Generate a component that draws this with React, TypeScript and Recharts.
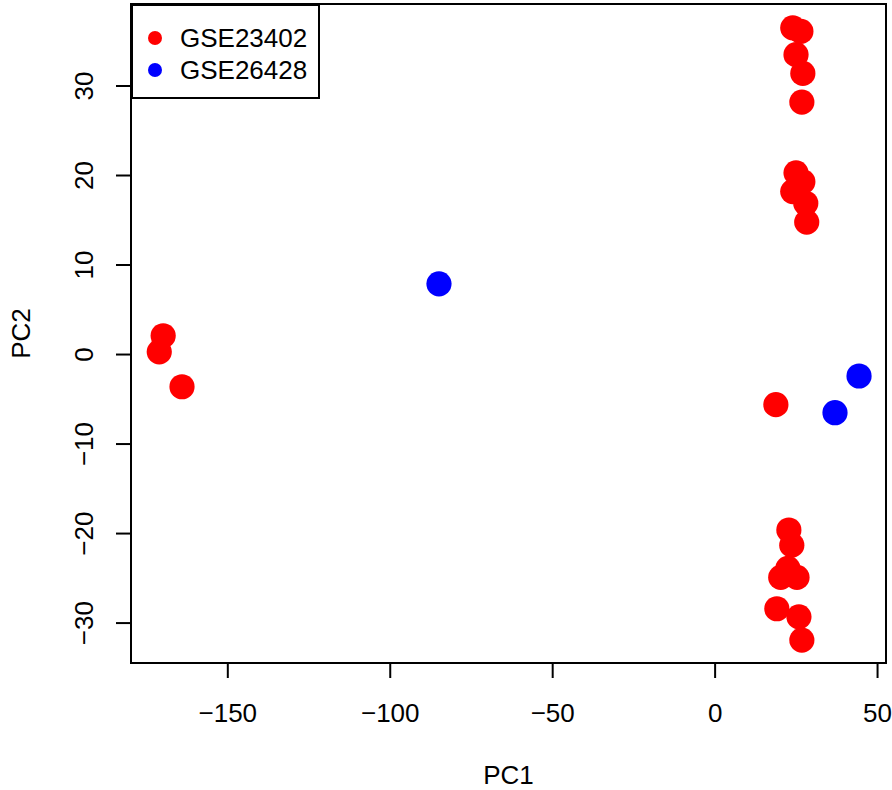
import React from "react";
import { ScatterChart, Scatter, XAxis, YAxis, ReferenceArea } from "recharts";

const seriesNames = ["GSE23402", "GSE26428"];
const seriesColors = ["#ff0000", "#0000ff"];

const gse23402X = [23.9, 26.4, 24.9, 27.0, 26.7, 24.9, 27.0, 23.9, 27.9, 28.2, 22.7, 23.6, 20.2, 22.4, 25.2, 19.0, 25.8, 26.7, -169.9, -171.1, -164.1, 18.7];
const gse23402Y = [36.5, 36.1, 33.5, 31.4, 28.2, 20.3, 19.3, 18.2, 16.9, 14.8, -19.6, -21.3, -24.9, -23.9, -24.9, -28.4, -29.3, -31.9, 2.1, 0.3, -3.6, -5.6];
const gse26428X = [-85.0, 36.9, 44.3];
const gse26428Y = [7.9, -6.5, -2.4];

const xTicks = [-150, -100, -50, 0, 50];
const yTicks = [-30, -20, -10, 0, 10, 20, 30];
const xDomain: [number, number] = [-179.8, 52.6];
const yDomain: [number, number] = [-34.46, 39.16];

const data1 = gse23402X.map((x, i) => ({ x, y: gse23402Y[i] }));
const data2 = gse26428X.map((x, i) => ({ x, y: gse26428Y[i] }));

const FONT = '"Liberation Sans", Arial, Helvetica, sans-serif';
const FS = 26;

const fmt = (v: number) => (v < 0 ? "\u2212" + Math.abs(v) : String(v));

const XTick = (props: any) => {
  const { x, y, payload } = props;
  return (
    <text x={x} y={y + 44} textAnchor="middle" fontFamily={FONT} fontSize={FS} fill="#000">
      {fmt(payload.value)}
    </text>
  );
};

const YTick = (props: any) => {
  const { x, y, payload } = props;
  const tx = x - 23;
  return (
    <text x={tx} y={y} transform={`rotate(-90, ${tx}, ${y})`} textAnchor="middle" fontFamily={FONT} fontSize={FS} fill="#000">
      {fmt(payload.value)}
    </text>
  );
};

const makeDot = (color: string) => (props: any) => {
  const { cx, cy } = props;
  if (cx == null || cy == null) return <g />;
  return <circle cx={cx} cy={cy} r={12.6} fill={color} />;
};

export default function App() {
  return (
    <div style={{ position: "absolute", left: 0, top: 0, width: 892, height: 790, background: "#fff" }}>
      <ScatterChart width={892} height={790} margin={{ top: 4, right: 6, bottom: 0, left: 0 }}>
        <XAxis
          type="number"
          dataKey="x"
          domain={xDomain}
          ticks={xTicks}
          allowDataOverflow
          height={127}
          axisLine={false}
          tickSize={15}
          tickMargin={0}
          tickLine={{ stroke: "#000", strokeWidth: 2 }}
          tick={<XTick />}
          interval={0}
          label={{
            content: (p: any) => {
              const vb = p.viewBox;
              return (
                <text x={vb.x + vb.width / 2} y={vb.y + 121} textAnchor="middle" fontFamily={FONT} fontSize={FS} fill="#000">
                  PC1
                </text>
              );
            },
          }}
        />
        <YAxis
          type="number"
          dataKey="y"
          domain={yDomain}
          ticks={yTicks}
          allowDataOverflow
          width={131}
          axisLine={false}
          tickSize={15}
          tickMargin={0}
          tickLine={{ stroke: "#000", strokeWidth: 2 }}
          tick={<YTick />}
          interval={0}
          label={{
            content: (p: any) => {
              const vb = p.viewBox;
              const lx = vb.x + 29.5;
              const ly = vb.y + vb.height / 2;
              return (
                <text x={lx} y={ly} transform={`rotate(-90, ${lx}, ${ly})`} textAnchor="middle" fontFamily={FONT} fontSize={FS} fill="#000">
                  PC2
                </text>
              );
            },
          }}
        />
        <ReferenceArea
          x1={xDomain[0]}
          x2={xDomain[1]}
          y1={yDomain[0]}
          y2={yDomain[1]}
          fill="none"
          fillOpacity={0}
          stroke="#000"
          strokeWidth={2}
          ifOverflow="visible"
        />
        <Scatter name={seriesNames[0]} data={data1} fill={seriesColors[0]} shape={makeDot(seriesColors[0])} isAnimationActive={false} />
        <Scatter name={seriesNames[1]} data={data2} fill={seriesColors[1]} shape={makeDot(seriesColors[1])} isAnimationActive={false} />
      </ScatterChart>
      <div
        style={{
          position: "absolute",
          left: 131,
          top: 4,
          width: 189,
          height: 95,
          boxSizing: "border-box",
          border: "2px solid #000",
          background: "#fff",
          fontFamily: FONT,
          fontSize: FS,
        }}
      >
        {seriesNames.map((name, i) => (
          <div
            key={name}
            style={{
              position: "absolute",
              left: 15,
              top: 17 + i * 31.5,
              height: 30,
              display: "flex",
              alignItems: "center",
              whiteSpace: "nowrap",
            }}
          >
            <span
              style={{
                display: "inline-block",
                width: 14,
                height: 14,
                borderRadius: "50%",
                background: seriesColors[i],
                marginRight: 18,
              }}
            />
            <span style={{ lineHeight: "30px" }}>{name}</span>
          </div>
        ))}
      </div>
    </div>
  );
}
